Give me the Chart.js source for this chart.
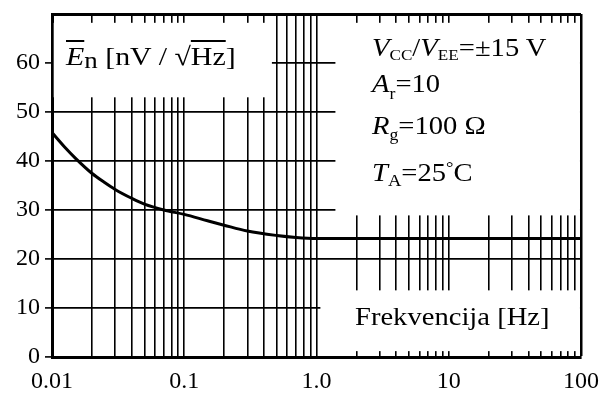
<!DOCTYPE html>
<html>
<head>
<meta charset="utf-8">
<script src="https://cdn.jsdelivr.net/npm/chart.js@4/dist/chart.umd.min.js"></script>
<style>
  html, body { margin: 0; padding: 0; background: #fff; }
  #wrap { position: relative; width: 605px; height: 394px; overflow: hidden; }
  canvas { position: absolute; left: 0; top: 0; }
  .lab { position: absolute; font-family: 'Liberation Serif', 'Times New Roman', serif; color: #000; line-height: 1; white-space: nowrap; transform-origin: left top; }
  .ol { text-decoration: overline; text-decoration-thickness: 1.5px; }
</style>
</head>
<body>
<div id="wrap">
  <canvas id="c" width="605" height="394"></canvas>
  <div class="lab" style="left:66px; top:44px; font-size:26px; transform:scaleX(1.15);"><i class="ol">E</i><span style="font-size:0.9em; position:relative; top:0.12em;">n</span> [nV / √<span class="ol">Hz</span>]</div>
  <div class="lab" style="left:372px; top:35px; font-size:26px; transform:scaleX(1.1);"><i>V</i><span style="font-size:0.6em; position:relative; top:0.25em;">CC</span>/<i>V</i><span style="font-size:0.6em; position:relative; top:0.25em;">EE</span>=±15 V</div>
  <div class="lab" style="left:372px; top:71px; font-size:26px; transform:scaleX(1.1);"><i>A</i><span style="font-size:0.62em; position:relative; top:0.45em;">r</span>=10</div>
  <div class="lab" style="left:372px; top:113px; font-size:26px; transform:scaleX(1.1);"><i>R</i><span style="font-size:0.62em; position:relative; top:0.35em;">g</span>=100 Ω</div>
  <div class="lab" style="left:372px; top:160px; font-size:26px; transform:scaleX(1.1);"><i>T</i><span style="font-size:0.65em; position:relative; top:0.3em;">A</span>=25<span style="font-size:0.65em; position:relative; top:-0.45em;">°</span>C</div>
  <div class="lab" style="left:355px; top:304px; font-size:26px; transform:scaleX(1.1);">Frekvencija [Hz]</div>
</div>
<script>
// ---- data ----
const frequencies = [0.01, 0.0125, 0.015, 0.02, 0.025, 0.03, 0.04, 0.05, 0.07, 0.1, 0.15, 0.2, 0.3, 0.5, 0.7, 1, 2, 10, 100];
const noiseDensity = [45.8, 42.8, 40.6, 37.5, 35.6, 34.2, 32.4, 31.2, 30.0, 29.1, 27.8, 26.9, 25.7, 24.8, 24.4, 24.2, 24.2, 24.2, 24.2];

const xTickValues = [0.01, 0.1, 1, 10, 100];
const xTickLabels = ['0.01', '0.1', '1.0', '10', '100'];
const xMinorMultipliers = [1, 2, 3, 4, 5, 6, 7, 8, 9];
const yTickValues = [0, 10, 20, 30, 40, 50, 60, 70];
const yTickLabels = ['0', '10', '20', '30', '40', '50', '60', ''];

// white label areas in data coordinates [xMin, xMax, yMin, yMax]
const labelAreas = [
  [0.0103, 0.46, 53, 68.2],
  [1.39, 98.2, 28.9, 68.2],
  [1.07, 98.2, 1.2, 13.6]
];

const gridValues = [];
xTickValues.slice(0, -1).forEach(d => xMinorMultipliers.forEach(m => gridValues.push(+(d * m).toPrecision(3))));
gridValues.push(xTickValues[xTickValues.length - 1]);

const FONT = "'Liberation Serif', 'Times New Roman', serif";

const whiteBoxes = {
  id: 'whiteBoxes',
  beforeDatasetsDraw(chart) {
    const { ctx, scales: { x, y } } = chart;
    ctx.save();
    ctx.fillStyle = '#fff';
    labelAreas.forEach(([x0, x1, y0, y1]) => {
      const px0 = x.getPixelForValue(x0), px1 = x.getPixelForValue(x1);
      const py0 = y.getPixelForValue(y1), py1 = y.getPixelForValue(y0);
      ctx.fillRect(px0, py0, px1 - px0, py1 - py0);
    });
    ctx.restore();
  }
};

new Chart(document.getElementById('c'), {
  type: 'line',
  data: {
    datasets: [{
      data: frequencies.map((f, i) => ({ x: f, y: noiseDensity[i] })),
      borderColor: '#000',
      borderWidth: 3,
      pointRadius: 0,
      fill: false,
      cubicInterpolationMode: 'monotone'
    }]
  },
  options: {
    responsive: false,
    devicePixelRatio: 1,
    animation: false,
    layout: { padding: { top: 14, right: 24, left: 0, bottom: 0 } },
    plugins: { legend: { display: false }, tooltip: { enabled: false }, title: { display: false } },
    scales: {
      x: {
        type: 'logarithmic',
        min: 0.01,
        max: 100,
        afterBuildTicks: s => { s.ticks = gridValues.map(v => ({ value: v })); },
        afterFit: s => { s.height = 37; s.paddingLeft = 0; s.paddingRight = 0; },
        ticks: {
          autoSkip: false,
          maxRotation: 0,
          padding: 10,
          color: '#000',
          font: { family: FONT, size: 24 },
          callback: v => {
            const i = xTickValues.findIndex(t => Math.abs(Math.log10(t) - Math.log10(v)) < 1e-6);
            return i >= 0 ? xTickLabels[i] : '';
          }
        },
        grid: {
          color: '#000',
          drawTicks: false,
          lineWidth: c => (c.tick && c.tick.value === 100 ? 2.5 : 1.6)
        },
        border: { display: true, color: '#000', width: 3 }
      },
      y: {
        type: 'linear',
        min: 0,
        max: 70,
        afterBuildTicks: s => { s.ticks = yTickValues.map(v => ({ value: v })); },
        afterFit: s => { s.width = 52; s.paddingTop = 0; s.paddingBottom = 0; },
        ticks: {
          padding: 5,
          color: '#000',
          font: { family: FONT, size: 24 },
          callback: v => yTickLabels[yTickValues.indexOf(v)]
        },
        grid: {
          color: '#000',
          tickLength: 7,
          tickColor: c => (c.tick && c.tick.value === 70 ? 'rgba(0,0,0,0)' : '#000'),
          tickWidth: 1.6,
          lineWidth: c => (c.tick && c.tick.value === 70 ? 3 : 1.8)
        },
        border: { display: true, color: '#000', width: 3 }
      }
    }
  },
  plugins: [whiteBoxes]
});
</script>
</body>
</html>
